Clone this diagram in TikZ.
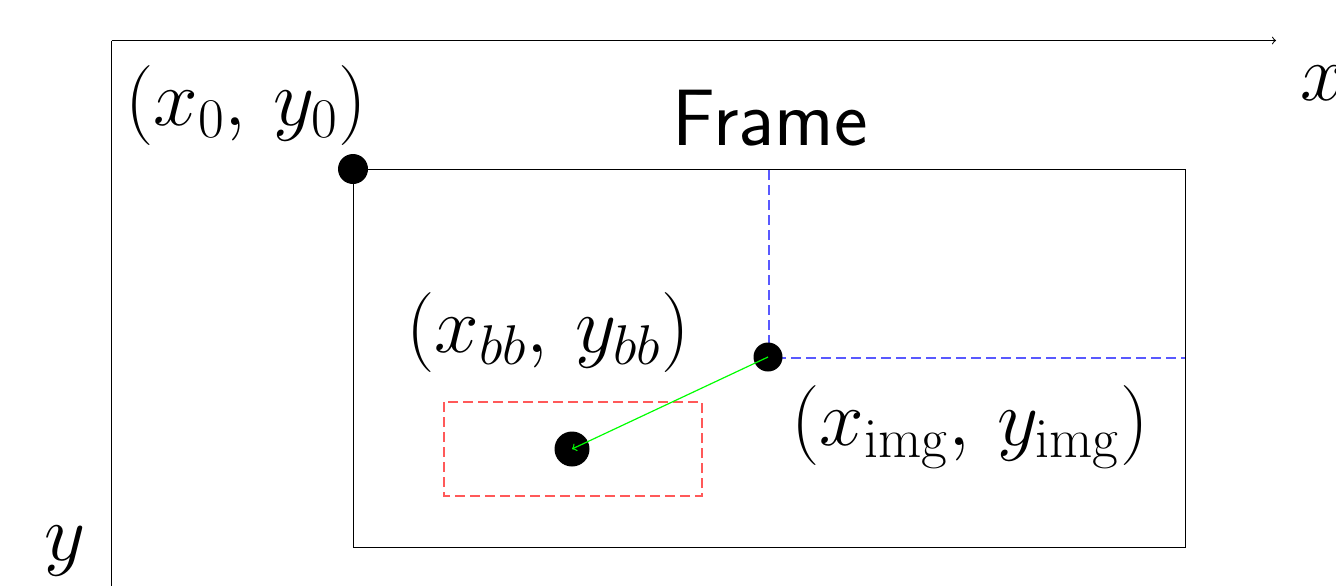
\RequirePackage{fix-cm}
\documentclass[tikz,border=0pt]{standalone}
\begin{document}
\begin{tikzpicture}[x=0.5pt,y=-0.5pt,
  lbl/.style={anchor=base,inner sep=0pt,font=\fontsize{40}{48}\selectfont},
  dot/.style={circle,fill=black,inner sep=0pt,minimum size=#1},
  reddash/.style={draw=red!65,dash pattern=on 5pt off 2.5pt,line width=0.8pt},
  bluedash/.style={draw=blue!65,dash pattern=on 5pt off 2.5pt,line width=0.8pt},
  thinline/.style={line width=0.5pt}]
\useasboundingbox (0,0) rectangle (1336,585);
% axes
\coordinate (o) at (111.5,40.5);
\coordinate (xe) at (1276,40.5);
\coordinate (ye) at (111.5,590);
\draw[thinline,->] (o) -- (xe);
\draw[thinline] (o) -- (ye);
\node[lbl] (xl) at (1323,100) {$x$};
\node[lbl] (yl) at (65,560) {$y$};
% frame
\coordinate (f1) at (353.5,169.5);
\coordinate (f2) at (1185.5,547.5);
\draw[thinline] (f1) rectangle (f2);
\node[lbl,font=\fontsize{40}{48}\selectfont\sffamily] (fr) at (770,145) {Frame};
% blue dashed lines
\coordinate (btop) at (769,170);
\coordinate (bright) at (1185,358);
\coordinate (bc) at (769,358);
\draw[bluedash] (btop) -- (bc) -- (bright);
\node[dot=14.5pt] (img) at (768,357) {};
% red bbox
\coordinate (r1) at (444,402);
\coordinate (r3) at (702,496);
\draw[reddash] (r1) rectangle (r3);
\node[dot=17.5pt] (bb) at (572,449) {};
\draw[green,line width=0.6pt,->] (img.center) -- (bb.center);
% origin dot
\node[dot=15pt] (p0) at (353,169) {};
% labels
\node[lbl] (l0) at (246,125) {$(x_0,\,y_0)$};
\node[lbl] (lbb) at (548,352) {$(x_{bb},\,y_{bb})$};
\node[lbl] (limg) at (970,445) {$(x_{\mathrm{img}},\,y_{\mathrm{img}})$};
\end{tikzpicture}
\end{document}
